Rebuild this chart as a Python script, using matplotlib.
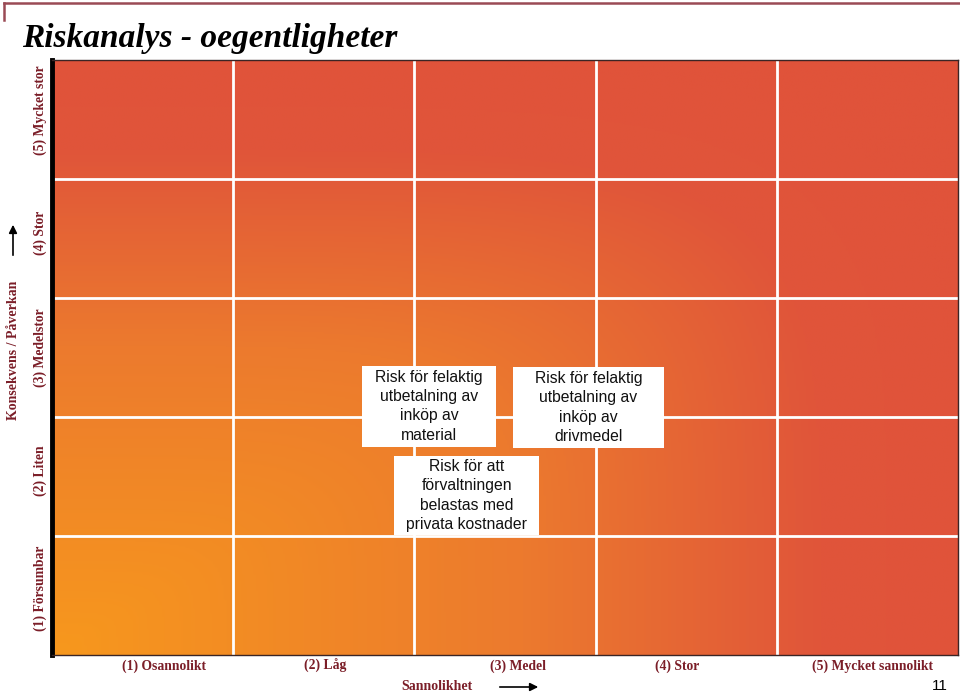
import numpy as np
import matplotlib
matplotlib.use("Agg")
import matplotlib.pyplot as plt
from matplotlib.patches import Rectangle, FancyArrowPatch
from matplotlib.lines import Line2D
from matplotlib.colors import LinearSegmentedColormap
from matplotlib.transforms import blended_transform_factory

# ---------------- data ----------------
title = "Riskanalys - oegentligheter"
likelihood_labels = ["(1) Osannolikt", "(2) Låg", "(3) Medel", "(4) Stor", "(5) Mycket sannolikt"]
consequence_labels = ["(1) Försumbar", "(2) Liten", "(3) Medelstor", "(4) Stor", "(5) Mycket stor"]
x_axis_title = "Sannolikhet"
y_axis_title = "Konsekvens / Påverkan"
page_number = "11"

risk_texts = [
    "Risk för felaktig\nutbetalning av\ninköp av\nmaterial",
    "Risk för felaktig\nutbetalning av\ninköp av\ndrivmedel",
    "Risk för att\nförvaltningen\nbelastas med\nprivata kostnader",
]
risk_likelihood = [2.58, 3.46, 2.79]
risk_consequence = [2.59, 2.58, 1.84]

# ---------------- style ----------------
W, H = 960, 695
label_color = "#7B1E28"
box_w = [0.74, 0.83, 0.80]
box_h = [0.68, 0.68, 0.66]
xlabel_offsets = [0.12, 0.01, 0.07, -0.05, 0.03]
ylabel_offsets = [0.06, 0.05, 0.08, 0.05, 0.08]

fig = plt.figure(figsize=(W / 100, H / 100), dpi=100)
fig.patch.set_facecolor("white")

ax = fig.add_axes([52 / W, 40 / H, 906 / W, 595 / H])
n = len(likelihood_labels)
ax.set_xlim(0.5, n + 0.5)
ax.set_ylim(0.5, n + 0.5)

# rectangular gradient from bottom-left (orange) to top/right (red)
res = 400
u = np.linspace(0, 1, res)
U, V = np.meshgrid(u, u)
p = 5.0
R = np.clip((U ** p + V ** p) ** (1 / p), 0, 1)
cmap = LinearSegmentedColormap.from_list(
    "risk",
    [(0.0, "#F7981D"), (0.52, "#EC7A2E"), (0.85, "#E0553A"), (1.0, "#E0533A")],
)
ax.imshow(R, cmap=cmap, vmin=0, vmax=1, origin="lower", aspect="auto",
          extent=[0.5, n + 0.5, 0.5, n + 0.5], interpolation="bilinear", zorder=0)

for k in range(1, n):
    ax.axvline(k + 0.5, color="white", lw=2, zorder=1)
    ax.axhline(k + 0.5, color="white", lw=2, zorder=1)

ax.set_xticks([])
ax.set_yticks([])
for s in ["top", "right", "bottom"]:
    ax.spines[s].set_color("#3a2525")
    ax.spines[s].set_linewidth(1.0)
ax.spines["left"].set_color("black")
ax.spines["left"].set_linewidth(3.5)

# risk boxes
for txt, x, y, bw, bh in zip(risk_texts, risk_likelihood, risk_consequence, box_w, box_h):
    ax.add_patch(Rectangle((x - bw / 2, y - bh / 2), bw, bh, facecolor="white",
                           edgecolor="none", zorder=3))
    ax.text(x, y, txt, ha="center", va="center", fontsize=11.3,
            family="Liberation Sans", linespacing=1.36, color="#111111", zorder=4)

# axis category labels
tx = blended_transform_factory(ax.transData, fig.transFigure)
for i, lab in enumerate(likelihood_labels):
    ax.text(i + 1 + xlabel_offsets[i], 1 - 666 / H, lab, transform=tx, ha="center",
            va="center", fontsize=9.8, family="Liberation Serif", weight="bold",
            color=label_color)

ty = blended_transform_factory(fig.transFigure, ax.transData)
for i, lab in enumerate(consequence_labels):
    ax.text(40 / W, i + 1 + ylabel_offsets[i], lab, transform=ty, ha="center",
            va="center", rotation=90, fontsize=9.8, family="Liberation Serif",
            weight="bold", color=label_color)

# axis titles
fig.text(437 / W, 1 - 687 / H, x_axis_title, ha="center", va="center", fontsize=10,
         family="Liberation Serif", weight="bold", color=label_color)
fig.text(14 / W, 1 - 350 / H, y_axis_title, ha="center", va="center", rotation=90,
         fontsize=10, family="Liberation Serif", weight="bold", color=label_color)

# arrows
fig.patches.append(FancyArrowPatch((497 / W, 1 - 687 / H), (541 / W, 1 - 687 / H),
                                   transform=fig.transFigure, arrowstyle="-|>",
                                   mutation_scale=12, color="black", lw=1.2))
fig.patches.append(FancyArrowPatch((13 / W, 1 - 258 / H), (13 / W, 1 - 222 / H),
                                   transform=fig.transFigure, arrowstyle="-|>",
                                   mutation_scale=12, color="black", lw=1.2))

# title
fig.text(22 / W, 1 - 38 / H, title, ha="left", va="center", fontsize=24,
         family="Liberation Serif", weight="bold", style="italic", color="black")

# page number
fig.text(940 / W, 1 - 686 / H, page_number, ha="center", va="center", fontsize=11,
         family="Liberation Sans", color="black")

# top decoration line
fig.add_artist(Line2D([4 / W, 1.0], [1 - 3 / H, 1 - 3 / H], transform=fig.transFigure,
                      color="#9A4A55", lw=1.8))
fig.add_artist(Line2D([4 / W, 4 / W], [1 - 3 / H, 1 - 20 / H], transform=fig.transFigure,
                      color="#9A4A55", lw=1.8))

fig.savefig("out.png", dpi=100, facecolor="white")
